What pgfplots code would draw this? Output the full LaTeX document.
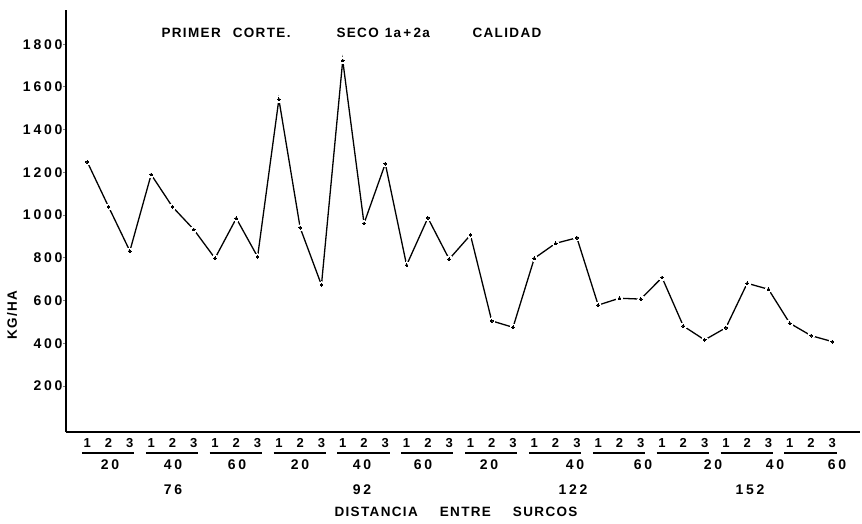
\documentclass[border=0pt]{standalone}
\usepackage{fontspec}
\setmainfont{Liberation Sans}
\newfontfamily\txtfont[LetterSpace=10]{Liberation Sans}
\newfontfamily\numfont[LetterSpace=20]{Liberation Sans}
\usepackage{pgfplots}
\usepackage{pgfplotstable}
\pgfplotsset{compat=1.18}

\newcommand{\lab}{\txtfont\fontsize{13.5}{15}\selectfont\bfseries}
\newcommand{\tlab}{\txtfont\fontsize{13}{15}\selectfont\bfseries}
\newcommand{\num}{\numfont\fontsize{14}{15}\selectfont\bfseries}

\pgfplotstableread{
x y
0 1249
1 1039
2 832
3 1190
4 1039
5 933
6 798
7 985
8 805
9 1542
10 941
11 673
12 1724
13 961
14 1241
15 766
16 987
17 794
18 907
19 505
20 475
21 798
22 868
23 894
24 579
25 611
26 607
27 708
28 481
29 416
30 473
31 681
32 653
33 494
34 436
35 408
}\yielddata

\begin{document}
\begin{tikzpicture}[x=1pt,y=1pt]
\path[use as bounding box] (0,0) rectangle (862,-524);
\begin{axis}[
    at={(66pt,-432pt)}, anchor=south west,
    scale only axis,
    width=794pt, height=422pt,
    xmin=-1, xmax=36.3,
    ymin=-15, ymax=1960,
    axis x line=bottom, axis y line=left,
    axis line style={-, line width=1.6pt},
    ytick={200,400,...,1800},
    xtick={0,...,35},
    xticklabels={1,2,3,1,2,3,1,2,3,1,2,3,1,2,3,1,2,3,1,2,3,1,2,3,1,2,3,1,2,3,1,2,3,1,2,3},
    x tick style={draw=none},
    y tick style={line width=1pt},
    major tick length=3pt,
    tick align=outside,
    /pgf/number format/1000 sep={},
    /pgf/number format/assume math mode=true,
    xticklabel style={font=\tlab},
    yticklabel style={font=\num, xshift=3pt},
    clip=false,
]
\addplot[black, line width=1.3pt] table[x=x, y=y] {\yielddata};
\addplot[white, only marks, mark=*, mark size=3.2pt,
         mark options={solid, fill=white, draw=white, line width=0pt}]
  table[x=x, y=y] {\yielddata};
\addplot[black, only marks, mark=*, mark size=1.4pt,
         mark options={solid, fill=black, draw=black, line width=0pt}]
  table[x=x, y=y] {\yielddata};
\pgfplotsinvokeforeach{0,...,11}{
  \draw[line width=1.2pt] (axis cs:{3*#1-0.25},-113) -- (axis cs:{3*#1+2.2},-113);
}
\end{axis}
% title
\node[anchor=west, font=\lab] at (158,-33) {PRIMER\hspace{12pt}CORTE.};
\node[anchor=west, font=\lab] at (333,-33) {SECO\hspace{6pt}1a\,+\,2a};
\node[anchor=west, font=\lab] at (469,-33) {CALIDAD};
% y label
\node[rotate=90, font=\lab] at (12,-315) {KG/HA};
% second row
\foreach \xx/\tt in {110/20,173/40,237/60,300/20,362/40,423/60,489/20,575/40,643/60,713/20,775/40,837/60}
  \node[font=\num] at (\xx,-465) {\tt};
% third row
\foreach \xx/\tt in {173/76,362/92,573/122,750/152}
  \node[font=\num] at (\xx,-490) {\tt};
% x label
\node[font=\lab] at (456,-512) {DISTANCIA\hspace{22pt}ENTRE\hspace{22pt}SURCOS};
\end{tikzpicture}
\end{document}
